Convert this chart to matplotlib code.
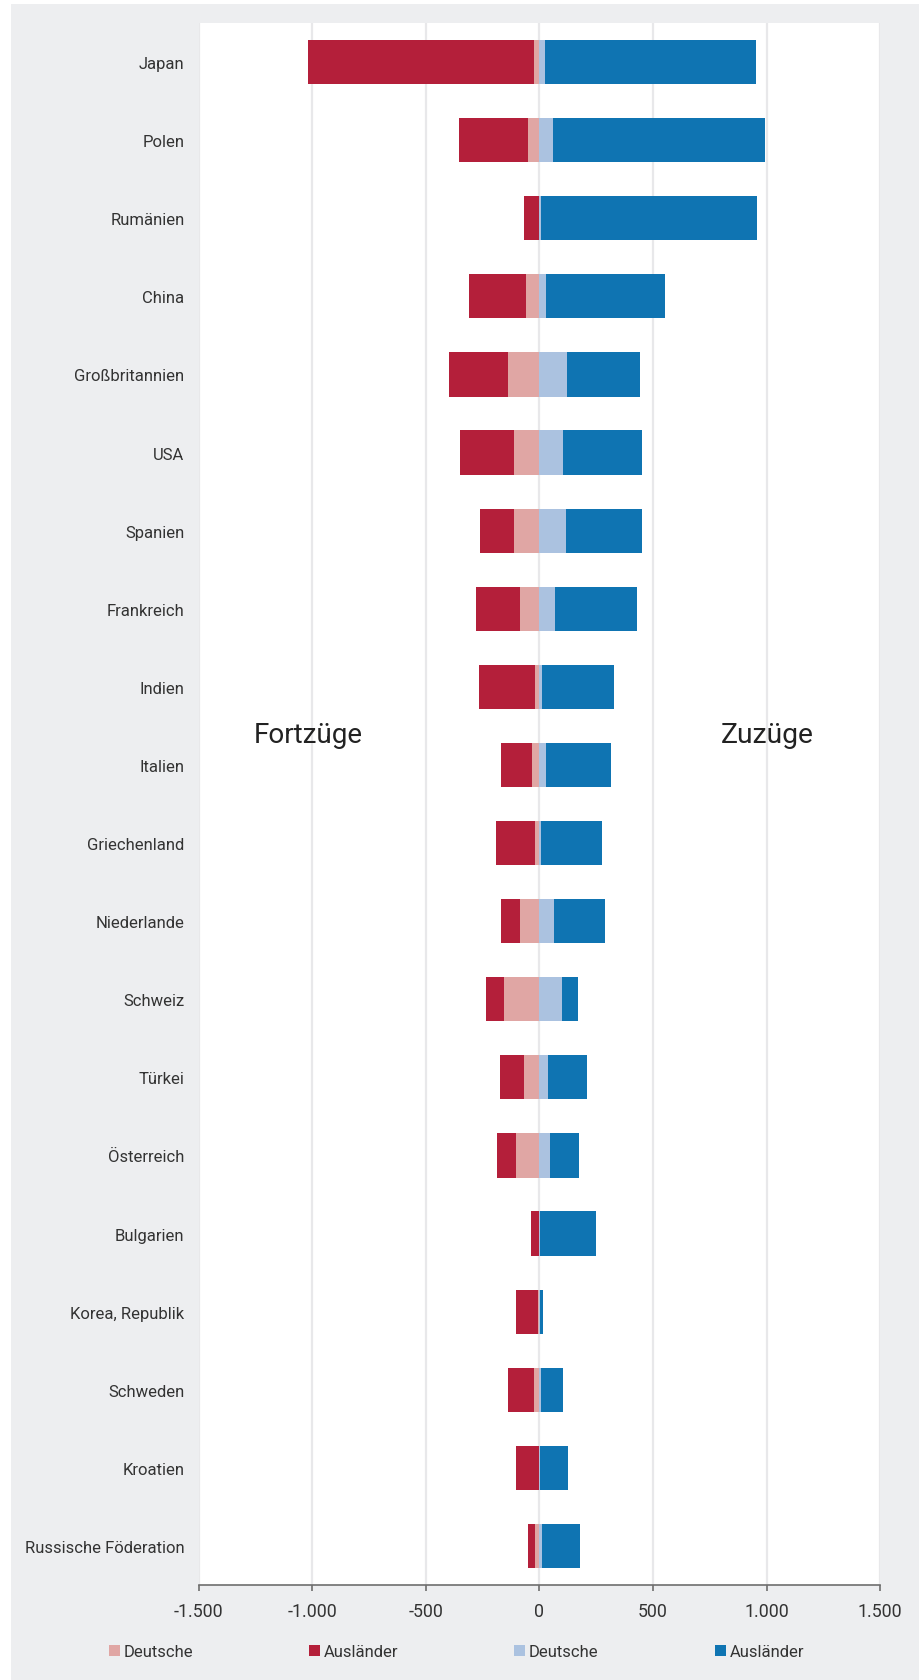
import matplotlib
matplotlib.use("Agg")
import matplotlib.pyplot as plt
import numpy as np
from matplotlib.patches import Rectangle
from matplotlib.ticker import FixedLocator, FuncFormatter

plt.rcParams['font.family'] = ['Roboto', 'DejaVu Sans']

countries = ["Japan", "Polen", "Rumänien", "China", "Großbritannien", "USA", "Spanien",
             "Frankreich", "Indien", "Italien", "Griechenland", "Niederlande", "Schweiz",
             "Türkei", "Österreich", "Bulgarien", "Korea, Republik", "Schweden", "Kroatien",
             "Russische Föderation"]
fort_deutsche = [22, 49, 2, 57, 140, 110, 110, 84, 18, 31, 18, 84, 154, 66, 101, 2, 5, 22, 1, 18]
fort_auslaender = [998, 306, 64, 251, 256, 238, 150, 194, 246, 136, 172, 84, 79, 106, 84, 33, 98, 114, 101, 31]
zu_deutsche = [27, 62, 8, 30, 120, 106, 119, 70, 13, 31, 9, 66, 101, 40, 48, 3, 2, 9, 1, 13]
zu_auslaender = [925, 933, 952, 524, 325, 347, 334, 361, 317, 286, 268, 224, 71, 171, 128, 248, 15, 97, 127, 167]
tick_values = [-1500, -1000, -500, 0, 500, 1000, 1500]
legend_labels = ["Deutsche", "Ausländer", "Deutsche", "Ausländer"]

c_fd = "#E0A6A4"
c_fa = "#B41F3A"
c_zd = "#ABC2E0"
c_za = "#0F74B2"
txt = "#333333"

W, H = 919, 1681
fig = plt.figure(figsize=(W / 100, H / 100), dpi=100, facecolor="white")
# grey panel
fig.patches.append(Rectangle((11 / W, 0), 1 - 11 / W, 1 - 5 / H, transform=fig.transFigure,
                             facecolor="#EDEEF0", edgecolor="none", zorder=-10))

ax = fig.add_axes([198.5 / W, 1 - 1586 / H, (880.2 - 198.5) / W, (1586 - 24) / H])
ax.set_facecolor("white")

y = np.arange(len(countries))
fd = -np.array(fort_deutsche, dtype=float)
fa = -np.array(fort_auslaender, dtype=float)
zd = np.array(zu_deutsche, dtype=float)
za = np.array(zu_auslaender, dtype=float)
h = 0.565
ax.barh(y, fd, height=h, color=c_fd, zorder=3, linewidth=0)
ax.barh(y, fa, left=fd, height=h, color=c_fa, zorder=3, linewidth=0)
ax.barh(y, zd, height=h, color=c_zd, zorder=3, linewidth=0)
ax.barh(y, za, left=zd, height=h, color=c_za, zorder=3, linewidth=0)

ax.set_xlim(-1500, 1500)
ax.set_ylim(len(countries) - 0.5, -0.5)
ax.xaxis.set_major_locator(FixedLocator(tick_values))
ax.xaxis.set_major_formatter(FuncFormatter(lambda v, p: f"{int(v):,}".replace(",", ".")))
ax.set_yticks(y)
ax.set_yticklabels(countries)
ax.grid(axis="x", color="#E8E8EA", linewidth=1.6, zorder=0)
ax.grid(axis="y", visible=False)
for s in ["left", "right", "top"]:
    ax.spines[s].set_visible(False)
ax.spines["bottom"].set_color("#6E6E6E")
ax.spines["bottom"].set_linewidth(1.2)
ax.tick_params(axis="x", direction="out", length=4, width=1.2, color="#6E6E6E",
               labelsize=12.8, labelcolor=txt, pad=8)
ax.tick_params(axis="y", length=0, labelsize=12, labelcolor=txt, pad=10)

fig.text(253.7 / W, 1 - 742.7 / H, "Fortzüge", fontsize=20, color="#222222", ha="left", va="baseline")
fig.text(721 / W, 1 - 742.7 / H, "Zuzüge", fontsize=20.3, color="#222222", ha="left", va="baseline")

# legend
leg_x = [109, 309, 514, 714.5]
leg_c = [c_fd, c_fa, c_zd, c_za]
for lx, lab, col in zip(leg_x, legend_labels, leg_c):
    fig.patches.append(Rectangle((lx / W, 1 - 1657 / H), 11 / W, 11 / H, transform=fig.transFigure,
                                 facecolor=col, edgecolor="none"))
    fig.text((lx + 15) / W, 1 - 1657 / H, lab, fontsize=12, color=txt, ha="left", va="baseline")

fig.savefig("out.png", dpi=100, facecolor=fig.get_facecolor())
